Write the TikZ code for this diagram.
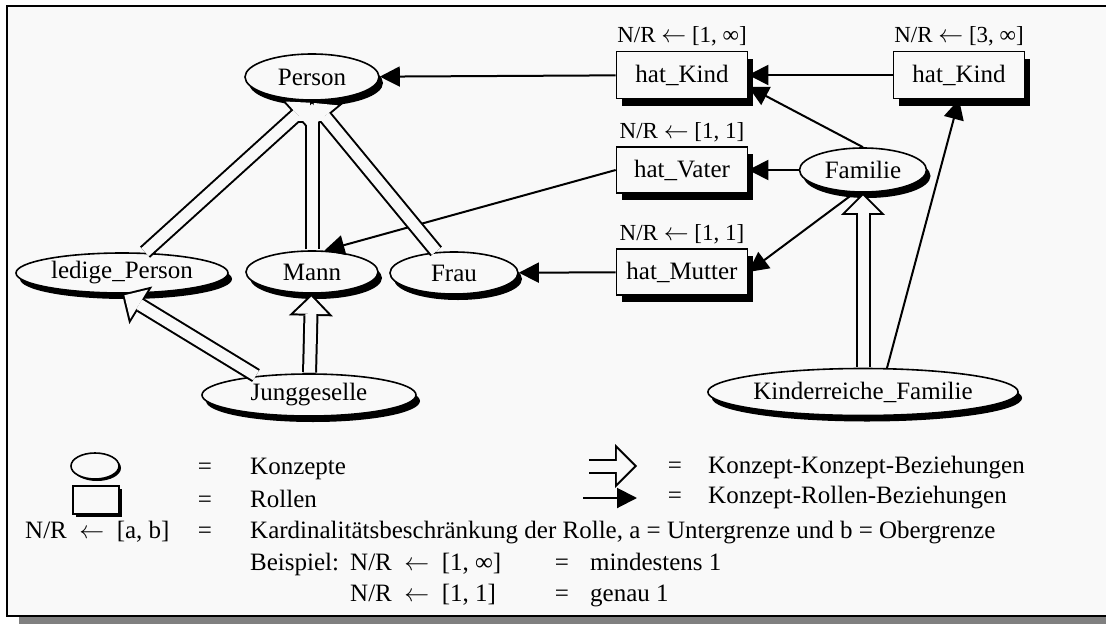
\documentclass[tikz,border=0pt]{standalone}
\usepackage{fontspec}
\setmainfont{Liberation Serif}
\usetikzlibrary{positioning,shapes.geometric,shadows,arrows.meta}
\definecolor{paper}{RGB}{249,249,249}
\newcommand\nrarrow{\ensuremath{\leftarrow}}
\tikzset{
  ovalbase/.style={ellipse, draw, line width=1.6pt, fill=paper, inner sep=0pt, minimum height=43pt,
    font=\fontsize{25}{29}\selectfont},
  concept/.style={ovalbase, drop shadow={shadow xshift=4pt, shadow yshift=-6pt, fill=black, opacity=1}},
  boxbase/.style={rectangle, draw, line width=1.6pt, fill=paper, inner sep=0pt, minimum width=131pt,
    minimum height=47pt, font=\fontsize{25}{29}\selectfont},
  role/.style={boxbase, drop shadow={shadow xshift=5pt, shadow yshift=-7pt, fill=black, opacity=1}},
  card/.style={inner sep=1pt, font=\fontsize{23}{27}\selectfont},
  txt/.style={anchor=base west, inner sep=0pt, font=\fontsize{25}{29}\selectfont},
  eqsign/.style={anchor=base, inner sep=0pt, font=\fontsize{25}{29}\selectfont},
  hasrole/.style={line width=2pt, -{Triangle[length=20pt, width=20pt]}},
  isaout/.style={line width=15pt, shorten <=0.8pt, -{Triangle[length=22pt, width=44pt, line width=0pt]}},
  isain/.style={line width=11pt, draw=paper, shorten <=0.8pt, shorten >=2.83pt,
    -{Triangle[length=17.2pt, width=34.3pt, line width=0pt]}},
}
\begin{document}
\begin{tikzpicture}[x=1pt,y=-1pt]
  \fill[white] (0,0) rectangle (1106,624);
  \useasboundingbox (0,0) rectangle (1106,624);
  \fill[black!50] (19,617) rectangle (1106,624);
  \draw[line width=2pt, fill=paper] (7,6) rectangle (1120,616);

  % Konzepte
  \node[concept, minimum width=134pt, minimum height=46pt] (person) at (312,77) {Person};
  \node[concept, minimum width=212pt, minimum height=40pt] (ledig) at (122,273) {ledige\_Person};
  \node[concept, minimum width=132pt, minimum height=42pt] (mann) at (312,272) {Mann};
  \node[concept, minimum width=128pt, minimum height=42pt] (frau) at (454,273) {Frau};
  \node[concept, minimum width=214pt, minimum height=42pt] (jung) at (309,395) {Junggeselle};
  \node[concept, minimum width=127pt, minimum height=44pt] (familie) at (863,170) {Familie};
  \node[concept, minimum width=288pt, minimum height=47pt] (kinder) at (863,392) {Kinderreiche\_Familie};

  % Rollen
  \node[role] (kindA) at (682,75) {hat\_Kind};
  \node[role] (kindB) at (959,75) {hat\_Kind};
  \node[role, minimum height=46pt] (vater) at (682,170) {hat\_Vater};
  \node[role, minimum height=46pt] (mutter) at (682,272) {hat\_Mutter};
  \node[card, above=3pt of kindA] (cardA) {N/R \nrarrow{} [1, ∞]};
  \node[card, above=3pt of kindB] (cardB) {N/R \nrarrow{} [3, ∞]};
  \node[card, above=3pt of vater] (cardV) {N/R \nrarrow{} [1, 1]};
  \node[card, above=3pt of mutter] (cardM) {N/R \nrarrow{} [1, 1]};

  % Legende
  \node[ovalbase, minimum width=48pt, minimum height=26pt,
    drop shadow={shadow xshift=2pt, shadow yshift=-2pt, fill=black, opacity=1}] (legoval) at (95,466) {};
  \node[boxbase, minimum width=46pt, minimum height=28pt,
    drop shadow={shadow xshift=3pt, shadow yshift=-3pt, fill=black, opacity=1}] (legbox) at (96,500) {};
  \coordinate (isaA) at (588,466);
  \coordinate (isaB) at (637,466);
  \coordinate (roleA) at (583,498);
  \coordinate (roleB) at (637,498);

  \node[eqsign] (eqA) at (205,474) {=};
  \node[eqsign] (eqB) at (205,507) {=};
  \node[eqsign] (eqC) at (205,538) {=};
  \node[eqsign] (eqD) at (675,473) {=};
  \node[eqsign] (eqE) at (675,503) {=};
  \node[eqsign] (eqF) at (562,570) {=};
  \node[eqsign] (eqG) at (562,601) {=};
  \node[txt] (konz) at (250,474) {Konzepte};
  \node[txt] (roll) at (250,507) {Rollen};
  \node[txt] (kard) at (250,538) {Kardinalitätsbeschränkung der Rolle, a = Untergrenze und b = Obergrenze};
  \node[txt] (nrab) at (25,538) {N/R~ \nrarrow{} ~[a, b]};
  \node[txt] (beisp) at (250,570) {Beispiel:};
  \node[txt] (exA) at (350,570) {N/R~ \nrarrow{} ~[1, ∞]};
  \node[txt] (exB) at (350,601) {N/R~ \nrarrow{} ~[1, 1]};
  \node[txt] (mind) at (590,570) {mindestens 1};
  \node[txt] (gen) at (590,601) {genau 1};
  \node[txt] (kkb) at (708,473) {Konzept-Konzept-Beziehungen};
  \node[txt] (krb) at (708,503) {Konzept-Rollen-Beziehungen};

  % Konzept-Rollen-Beziehungen
  \draw[hasrole] (kindA) -- (person);
  \draw[hasrole] (kindB) -- (kindA);
  \draw[hasrole] (familie.north) -- (kindA.-10);
  \draw[hasrole] (familie) -- (vater);
  \draw[hasrole] (familie.250) -- (mutter.east);
  \draw[hasrole] (vater.west) -- (mann.60);
  \draw[hasrole] (mutter) -- (frau);
  \draw[hasrole] (kinder.45) -- (kindB.south);
  \draw[hasrole] (roleA) -- (roleB);

  % Konzept-Konzept-Beziehungen
  \foreach \a/\b in {ledig/person.south, mann/person.south, frau/person.south,
      jung.160/ledig.south, jung/mann, kinder/familie, isaA/isaB}
    \draw[isaout] (\a) -- (\b);
  \foreach \a/\b in {ledig/person.south, mann/person.south, frau/person.south,
      jung.160/ledig.south, jung/mann, kinder/familie, isaA/isaB}
    \draw[isain] (\a) -- (\b);
\end{tikzpicture}
\end{document}
